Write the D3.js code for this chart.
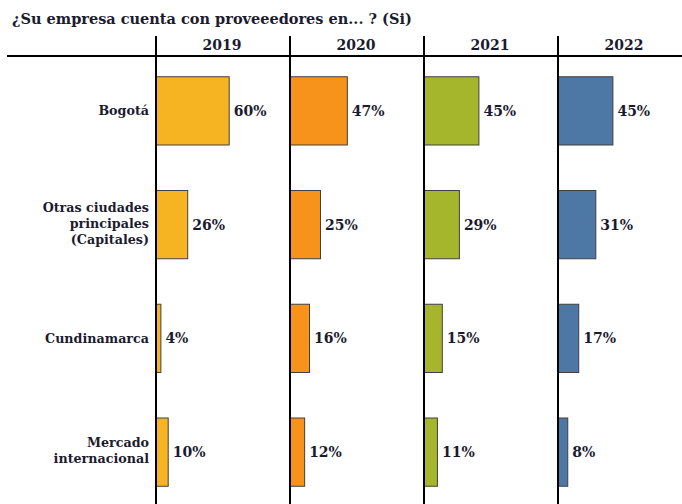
<!DOCTYPE html>
<html><head><meta charset="utf-8">
<script src="https://cdn.jsdelivr.net/npm/d3@7"></script>
<style>body{margin:0;background:#fff}svg{display:block}</style>
</head><body>
<svg id="c" width="682" height="504"></svg>
<script>
const categories = ["Bogotá", "Otras ciudades principales (Capitales)", "Cundinamarca", "Mercado internacional"];
const categoryLines = [["Bogotá"], ["Otras ciudades", "principales", "(Capitales)"], ["Cundinamarca"], ["Mercado", "internacional"]];
const years = ["2019", "2020", "2021", "2022"];
const values2019 = [60, 26, 4, 10];
const values2020 = [47, 25, 16, 12];
const values2021 = [45, 29, 15, 11];
const values2022 = [45, 31, 17, 8];
const colors = ["#F7B422", "#F7931B", "#A5B52C", "#4D77A4"];
const title = "¿Su empresa cuenta con proveeedores en... ? (Si)";

const series = [values2019, values2020, values2021, values2022];
const svg = d3.select("#c");
const textColor = "#1b1b2f";
const serif = "'DejaVu Serif', serif";

svg.append("text").attr("x", 12).attr("y", 24).attr("font-family", serif)
  .attr("font-weight", "bold").attr("font-size", 14.5).attr("fill", textColor).text(title);

const panel = d3.scaleBand().domain(years).range([156, 692]).padding(0);
const y = d3.scaleBand().domain(categories).range([54, 509]).paddingInner(0.4).paddingOuter(0.2);
const x = d3.scaleLinear().domain([0, 100]).range([0, 122]);

// header line
svg.append("line").attr("x1", 7).attr("x2", 682).attr("y1", 56).attr("y2", 56)
  .attr("stroke", "#000").attr("stroke-width", 2);

years.forEach((yr, i) => {
  const px = panel(yr);
  const g = svg.append("g");
  g.append("text").attr("x", px + 66).attr("y", 50).attr("text-anchor", "middle")
    .attr("font-family", serif).attr("font-weight", "bold").attr("font-size", 14)
    .attr("fill", textColor).text(yr);
  g.selectAll("rect").data(series[i]).join("rect")
    .attr("x", px).attr("y", (d, j) => y(categories[j]))
    .attr("width", d => x(d)).attr("height", y.bandwidth())
    .attr("fill", colors[i]).attr("stroke", "#404040").attr("stroke-width", 1);
  g.selectAll("text.v").data(series[i]).join("text").attr("class", "v")
    .attr("x", d => px + x(d) + 4.5).attr("y", (d, j) => y(categories[j]) + y.bandwidth() / 2 + 5)
    .attr("font-family", serif).attr("font-weight", "bold").attr("font-size", 14)
    .attr("fill", textColor).text(d => d + "%");
  g.append("line").attr("x1", px).attr("x2", px).attr("y1", 36).attr("y2", 504)
    .attr("stroke", "#000").attr("stroke-width", 2);
});

categories.forEach((c, j) => {
  const lines = categoryLines[j];
  const cy = y(c) + y.bandwidth() / 2;
  const lh = 16;
  const off = lines.length > 1 ? 3 : 4.5;
  const t = svg.append("text").attr("text-anchor", "end").attr("font-family", serif)
    .attr("font-weight", "bold").attr("font-size", 12.7).attr("fill", textColor);
  lines.forEach((l, k) => {
    t.append("tspan").attr("x", 149).attr("y", cy + off + (k - (lines.length - 1) / 2) * lh).text(l);
  });
});
</script>
</body></html>
